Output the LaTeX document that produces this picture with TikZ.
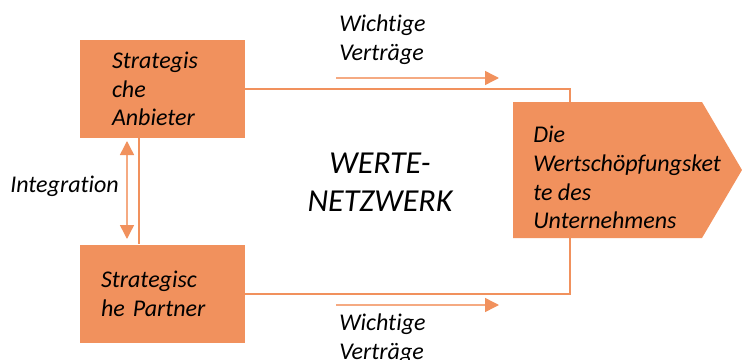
\documentclass[tikz,border=0pt]{standalone}
\usepackage{fontspec}
\setmainfont{Carlito}[Ligatures=NoCommon]
\usetikzlibrary{arrows.meta, positioning}

\definecolor{boxorange}{RGB}{241,145,93}
\definecolor{hellorange}{RGB}{245,170,130}

\tikzset{
  box/.style={fill=boxorange, draw=none, minimum height=73.5pt, align=left,
    font=\fontsize{18}{21.5}\selectfont\itshape},
  beschriftung/.style={inner sep=0pt, align=left, font=\fontsize{18}{21.5}\selectfont\itshape},
  verbindung/.style={draw=boxorange, line width=1.5pt},
  pfeil/.style={draw=hellorange, line width=1.1pt, -{Triangle[length=10.5pt,width=10.5pt,color=boxorange]}},
  doppelpfeil/.style={draw=hellorange, line width=1.1pt, {Triangle[length=10.5pt,width=10.5pt,color=boxorange]}-{Triangle[length=10.5pt,width=10.5pt,color=boxorange]}}
}

\begin{document}
\begin{tikzpicture}[x=0.75pt, y=-0.75pt]

        \useasboundingbox (0,0) rectangle (742,360);

        % Boxes on the left
        \node[box, text width=75.75pt, inner xsep=24pt] (anbieter) at (162.5,89) {Strategis\\che\\Anbieter};
        \node[box, text width=92.25pt, inner xsep=15.75pt] (partner) at (162.5,293.5) {Strategisc\\he Partner};

        % Value chain (arrow shape)
        \fill[boxorange] (513,102) -- (702,102) -- (742,170) -- (702,238) -- (513,238) -- cycle;
        \node[beschriftung, anchor=north west] (kette) at (533,126) {Die\\Wertschöpfungsket\\te des\\Unternehmens};
        \coordinate (ketteoben) at (570,102);
        \coordinate (ketteunten) at (570,238);

        \node[anchor=north, inner sep=0pt, align=center, font=\fontsize{24}{28.5}\selectfont\itshape] (netzwerk) at (380,153) {WERTE-\\NETZWERK};

        % Connectors
        \draw[verbindung] (anbieter.east) -| (ketteoben);
        \draw[verbindung] (partner.east) -| (ketteunten);
        \draw[verbindung] ([xshift=44.25pt]anbieter.south west) -- ([xshift=44.25pt]partner.north west);

        % Contracts
        \node[beschriftung, anchor=north west] (vertragoben) at (339,15) {Wichtige\\Verträge};
        \coordinate (pfeiloben1) at (336,78);
        \coordinate (pfeiloben2) at (499,78);
        \draw[pfeil] (pfeiloben1) -- (pfeiloben2);

        \node[beschriftung, anchor=north west] (vertragunten) at (339,314) {Wichtige\\Verträge};
        \coordinate (pfeilunten1) at (336,305);
        \coordinate (pfeilunten2) at (499,305);
        \draw[pfeil] (pfeilunten1) -- (pfeilunten2);

        % Integration
        \node[beschriftung, anchor=base west] (integration) at (10,192) {Integration};
        \coordinate (int1) at (127,141);
        \coordinate (int2) at (127,239);
        \draw[doppelpfeil] (int1) -- (int2);

\end{tikzpicture}
\end{document}
